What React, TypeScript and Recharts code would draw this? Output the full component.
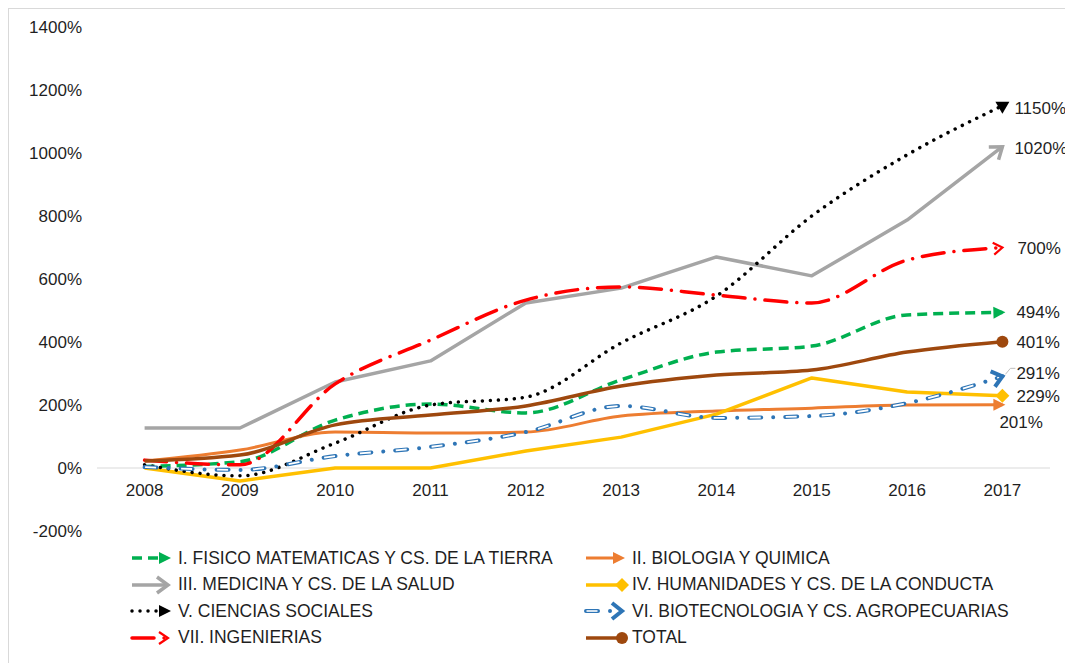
import React from 'react';
import { LineChart, Line, XAxis, YAxis, ReferenceLine, LabelList } from 'recharts';

const years = ['2008', '2009', '2010', '2011', '2012', '2013', '2014', '2015', '2016', '2017'];
const fisicoMat = [5, 20, 152, 203, 175, 280, 368, 387, 486, 494];
const biologia = [22, 57, 114, 111, 114, 165, 181, 190, 200, 201];
const medicina = [127, 127, 273, 340, 524, 571, 670, 610, 787, 1020];
const humanidades = [0, -41, 0, 0, 54, 98, 171, 286, 241, 229];
const sociales = [10, -25, 79, 200, 225, 397, 546, 800, 994, 1150];
const biotec = [3, -6, 38, 67, 114, 197, 159, 165, 206, 291];
const ingenierias = [25, 10, 267, 406, 533, 575, 549, 524, 660, 700];
const total = [22, 41, 137, 168, 197, 260, 295, 311, 368, 401];
const yTicks = [-200, 0, 200, 400, 600, 800, 1000, 1200, 1400];

const FONT = '"Liberation Sans", Arial, sans-serif';
const TEXT = '#1f1f1f';

type Mark = 'triangle' | 'open' | 'chevron' | 'diamond' | 'down' | 'openBlue' | 'circle';

interface Series {
  key: string;
  name: string;
  values: number[];
  color: string;
  width: number;
  dash?: string;
  cap?: 'round' | 'butt';
  curve: 'monotone' | 'linear';
  mark: Mark;
  hollow?: boolean;
  labelDx: number;
  labelDy: number;
  leader?: boolean;
}

const series: Series[] = [
  { key: 's1', name: 'I. FISICO MATEMATICAS Y CS. DE LA TIERRA', values: fisicoMat, color: '#00b050', width: 3.5, dash: '10 6', curve: 'monotone', mark: 'triangle', labelDx: 14, labelDy: 6 },
  { key: 's2', name: 'II. BIOLOGIA Y QUIMICA', values: biologia, color: '#ed7d31', width: 3, curve: 'monotone', mark: 'triangle', labelDx: -3, labelDy: 23 },
  { key: 's3', name: 'III. MEDICINA Y CS. DE LA SALUD', values: medicina, color: '#a5a5a5', width: 3.5, curve: 'linear', mark: 'open', labelDx: 12, labelDy: 7 },
  { key: 's4', name: 'IV. HUMANIDADES Y CS. DE LA CONDUCTA', values: humanidades, color: '#ffc000', width: 3.5, curve: 'linear', mark: 'diamond', labelDx: 14, labelDy: 6 },
  { key: 's5', name: 'V. CIENCIAS SOCIALES', values: sociales, color: '#000000', width: 3.5, dash: '0.01 8', cap: 'round', curve: 'monotone', mark: 'down', labelDx: 12, labelDy: 8 },
  { key: 's6', name: 'VI. BIOTECNOLOGIA Y CS. AGROPECUARIAS', values: biotec, color: '#2e75b6', width: 4, dash: '12 12 0.01 12', cap: 'round', curve: 'monotone', mark: 'openBlue', hollow: true, labelDx: 14, labelDy: 3, leader: true },
  { key: 's7', name: 'VII. INGENIERIAS', values: ingenierias, color: '#ff0000', width: 3.5, dash: '22 10 0.01 10', cap: 'round', curve: 'monotone', mark: 'chevron', labelDx: 15, labelDy: 6 },
  { key: 's8', name: 'TOTAL', values: total, color: '#9e480e', width: 3.5, curve: 'monotone', mark: 'circle', labelDx: 14, labelDy: 6 },
];

const data = years.map((year, i) => {
  const row: Record<string, string | number> = { year };
  series.forEach((s) => {
    row[s.key] = s.values[i];
  });
  return row;
});

const EndMark = ({ kind, color, x, y, angle }: { kind: Mark; color: string; x: number; y: number; angle: number }) => {
  const deg = (angle * 180) / Math.PI;
  const t = `translate(${x},${y}) rotate(${deg})`;
  switch (kind) {
    case 'triangle':
      return <path transform={t} d="M3,0 L-9,-6 L-9,6 Z" fill={color} />;
    case 'open':
      return <polyline transform={t} points="-11,-8 0,0 -11,8" fill="none" stroke={color} strokeWidth={3.5} />;
    case 'chevron':
      return <polyline transform={t} points="-9,-6 0,0 -9,6" fill="none" stroke={color} strokeWidth={2.2} />;
    case 'openBlue':
      return <polyline transform={t} points="-10,-8 0,0 -10,8" fill="none" stroke={color} strokeWidth={4} />;
    case 'diamond':
      return <path transform={`translate(${x},${y})`} d="M0,-7 L7,0 L0,7 L-7,0 Z" fill={color} />;
    case 'down':
      return <path transform={`translate(${x},${y})`} d="M-7,-4 L7,-4 L0,8 Z" fill={color} />;
    case 'circle':
      return <circle cx={x} cy={y} r={6} fill={color} />;
    default:
      return null;
  }
};

const makeDot = (s: Series) => {
  let prev = { x: 0, y: 0 };
  const n = s.values.length;
  return (props: any) => {
    const { cx, cy, index } = props;
    if (index === n - 2) prev = { x: cx, y: cy };
    if (index !== n - 1) return <g key={`${s.key}-d${index}`} />;
    const angle = Math.atan2(cy - prev.y, cx - prev.x);
    return (
      <g key={`${s.key}-d${index}`}>
        <EndMark kind={s.mark} color={s.color} x={cx} y={cy} angle={angle} />
      </g>
    );
  };
};

const makeLabel = (s: Series) => (props: any) => {
  const { x, y, index, value } = props;
  if (index !== s.values.length - 1) return null;
  return (
    <g>
      {s.leader && (
        <polyline points={`${x + 3},${y - 2} ${x + 8},${y - 8} ${x + 13},${y - 8}`} fill="none" stroke="#bfbfbf" strokeWidth={1} />
      )}
      <text x={x + s.labelDx} y={y + s.labelDy} fontSize={17} fill={TEXT} fontFamily={FONT}>
        {`${value}%`}
      </text>
    </g>
  );
};

const YearTick = ({ x, y, payload }: any) => (
  <text x={x} y={y - 35} textAnchor="middle" fontSize={17} fill={TEXT} fontFamily={FONT}>
    {payload.value}
  </text>
);

const LegendIcon = ({ s }: { s: Series }) => (
  <svg width={44} height={16} style={{ display: 'block', overflow: 'visible' }}>
    <line x1={2} y1={8} x2={36} y2={8} stroke={s.color} strokeWidth={s.width} strokeDasharray={s.dash} strokeLinecap={s.cap || 'butt'} />
    {s.hollow && (
      <line x1={2} y1={8} x2={36} y2={8} stroke="#ffffff" strokeWidth={1.6} strokeDasharray="11 25.01" strokeDashoffset={-0.5} />
    )}
    <EndMark kind={s.mark === 'down' ? 'triangle' : s.mark} color={s.color} x={38} y={8} angle={0} />
  </svg>
);

export default function App() {
  return (
    <div
      style={{
        position: 'relative',
        width: 1061,
        height: 660,
        border: '1px solid #d9d9d9',
        background: '#ffffff',
        fontFamily: FONT,
      }}
    >
      <LineChart width={1060} height={540} data={data} margin={{ top: 18, right: 19, left: 0, bottom: 0 }}>
        <XAxis
          dataKey="year"
          axisLine={false}
          tickLine={false}
          tickSize={0}
          tickMargin={0}
          height={18}
          tick={<YearTick />}
          interval={0}
          padding={{ left: 47.6, right: 47.6 }}
        />
        <YAxis
          width={88}
          domain={[-200, 1400]}
          ticks={yTicks}
          axisLine={false}
          tickLine={false}
          tickSize={0}
          tickMargin={15}
          tickFormatter={(v: number) => `${v}%`}
          tick={{ fontSize: 17, fill: TEXT, fontFamily: FONT }}
        />
        <ReferenceLine y={0} stroke="#d9d9d9" strokeWidth={1} />
        {series.map((s) => [
          <Line
            key={s.key}
            type={s.curve}
            dataKey={s.key}
            name={s.name}
            stroke={s.color}
            strokeWidth={s.width}
            strokeDasharray={s.dash}
            strokeLinecap={s.cap || 'butt'}
            strokeLinejoin="round"
            dot={makeDot(s)}
            activeDot={false}
            isAnimationActive={false}
          >
            {!s.hollow && <LabelList dataKey={s.key} content={makeLabel(s)} />}
          </Line>,
          s.hollow ? (
            <Line
              key={`${s.key}-in`}
              type={s.curve}
              dataKey={s.key}
              stroke="#ffffff"
              strokeWidth={1.8}
              strokeDasharray="11 25.01"
              strokeDashoffset={-0.5}
              dot={false}
              activeDot={false}
              legendType="none"
              isAnimationActive={false}
            >
              <LabelList dataKey={s.key} content={makeLabel(s)} />
            </Line>
          ) : null,
        ])}
      </LineChart>
      <div
        style={{
          position: 'absolute',
          left: 121,
          top: 536,
          display: 'grid',
          gridTemplateColumns: '454px 460px',
          gridAutoRows: '26.5px',
        }}
      >
        {series.map((s) => (
          <div key={s.key} style={{ display: 'flex', alignItems: 'center', fontSize: 17.5, color: TEXT, whiteSpace: 'nowrap' }}>
            <LegendIcon s={s} />
            <span style={{ marginLeft: 4 }}>{s.name}</span>
          </div>
        ))}
      </div>
    </div>
  );
}
